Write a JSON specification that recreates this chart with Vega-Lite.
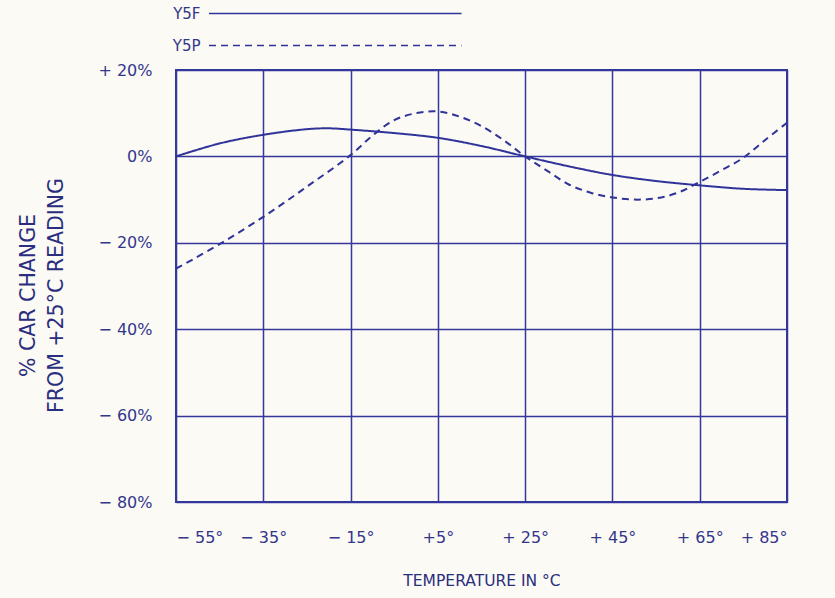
{
  "$schema": "https://vega.github.io/schema/vega-lite/v6.json",
  "width": 611,
  "height": 432,
  "autosize": {"type": "none"},
  "padding": {"left": 176, "top": 70, "right": 48, "bottom": 96},
  "background": "#fbfaf4",
  "config": {
    "font": "DejaVu Sans",
    "view": {"stroke": "#34379c", "strokeWidth": 2},
    "axis": {
      "grid": true,
      "gridColor": "#34379c",
      "gridWidth": 1.5,
      "gridOpacity": 1,
      "domain": false,
      "ticks": false,
      "tickSize": 0,
      "labelColor": "#34368c",
      "titleColor": "#2b2e80",
      "titleFontWeight": "normal"
    }
  },
  "data": {
    "values": [
      {"temp": -55, "change": 0, "series": "Y5F"},
      {"temp": -45, "change": 3.0, "series": "Y5F"},
      {"temp": -35, "change": 5.0, "series": "Y5F"},
      {"temp": -25, "change": 6.3, "series": "Y5F"},
      {"temp": -20, "change": 6.5, "series": "Y5F"},
      {"temp": -15, "change": 6.2, "series": "Y5F"},
      {"temp": -5, "change": 5.4, "series": "Y5F"},
      {"temp": 5, "change": 4.3, "series": "Y5F"},
      {"temp": 15, "change": 2.4, "series": "Y5F"},
      {"temp": 25, "change": 0, "series": "Y5F"},
      {"temp": 35, "change": -2.3, "series": "Y5F"},
      {"temp": 45, "change": -4.3, "series": "Y5F"},
      {"temp": 55, "change": -5.7, "series": "Y5F"},
      {"temp": 65, "change": -6.7, "series": "Y5F"},
      {"temp": 75, "change": -7.5, "series": "Y5F"},
      {"temp": 85, "change": -7.8, "series": "Y5F"},
      {"temp": -55, "change": -26, "series": "Y5P"},
      {"temp": -45, "change": -20.3, "series": "Y5P"},
      {"temp": -35, "change": -14.0, "series": "Y5P"},
      {"temp": -25, "change": -7.0, "series": "Y5P"},
      {"temp": -15, "change": 0.3, "series": "Y5P"},
      {"temp": -10, "change": 4.8, "series": "Y5P"},
      {"temp": -5, "change": 8.4, "series": "Y5P"},
      {"temp": 0, "change": 10.0, "series": "Y5P"},
      {"temp": 5, "change": 10.4, "series": "Y5P"},
      {"temp": 10, "change": 9.2, "series": "Y5P"},
      {"temp": 15, "change": 7.0, "series": "Y5P"},
      {"temp": 20, "change": 3.8, "series": "Y5P"},
      {"temp": 25, "change": 0, "series": "Y5P"},
      {"temp": 30, "change": -3.3, "series": "Y5P"},
      {"temp": 35, "change": -6.5, "series": "Y5P"},
      {"temp": 40, "change": -8.4, "series": "Y5P"},
      {"temp": 45, "change": -9.5, "series": "Y5P"},
      {"temp": 50, "change": -10.0, "series": "Y5P"},
      {"temp": 55, "change": -9.7, "series": "Y5P"},
      {"temp": 60, "change": -8.4, "series": "Y5P"},
      {"temp": 65, "change": -5.9, "series": "Y5P"},
      {"temp": 70, "change": -3.2, "series": "Y5P"},
      {"temp": 75, "change": -0.3, "series": "Y5P"},
      {"temp": 80, "change": 3.8, "series": "Y5P"},
      {"temp": 85, "change": 7.8, "series": "Y5P"}
    ]
  },
  "mark": {"type": "line", "color": "#30339a", "strokeWidth": 2, "interpolate": "catmull-rom", "clip": true},
  "encoding": {
    "x": {
      "field": "temp",
      "type": "quantitative",
      "scale": {"domain": [-55, 85], "nice": false, "zero": false},
      "axis": {
        "values": [-55, -35, -15, 5, 25, 45, 65, 85],
        "labelExpr": "datum.value < 0 ? '− ' + (-datum.value) + '°' : (datum.value < 10 ? '+' + datum.value + '°' : '+ ' + datum.value + '°')",
        "labelFontSize": 16,
        "labelPadding": 27,
        "labelBaseline": "top",
        "title": "TEMPERATURE IN °C",
        "titleFontSize": 15.5,
        "titleY": 78,
        "titleBaseline": "middle"
      }
    },
    "y": {
      "field": "change",
      "type": "quantitative",
      "scale": {"domain": [-80, 20], "nice": false, "zero": false},
      "axis": {
        "values": [-80, -60, -40, -20, 0, 20],
        "labelExpr": "datum.value < 0 ? '− ' + (-datum.value) + '%' : (datum.value > 0 ? '+ ' + datum.value + '%' : '0%')",
        "labelFontSize": 16,
        "labelPadding": 24,
        "title": ["% CAR CHANGE", "FROM +25°C READING"],
        "titleFontSize": 20.5,
        "titleLineHeight": 28,
        "titleX": -148,
        "titleY": 225,
        "titleAngle": -90,
        "titleAlign": "center",
        "titleBaseline": "middle"
      }
    },
    "strokeDash": {
      "field": "series",
      "type": "nominal",
      "scale": {"domain": ["Y5F", "Y5P"], "range": [[1, 0], [7, 5]]},
      "legend": {
        "title": null,
        "orient": "none",
        "legendX": 32,
        "legendY": -70,
        "direction": "vertical",
        "padding": 0,
        "symbolType": "M-1,0H19.2",
        "symbolSize": 625,
        "symbolStrokeWidth": 1.5,
        "symbolStrokeColor": "#30339a",
        "symbolOpacity": 1,
        "rowPadding": 10,
        "labelAlign": "right",
        "labelOffset": -34.5,
        "labelFontSize": 15,
        "labelColor": "#34368c"
      }
    }
  }
}
